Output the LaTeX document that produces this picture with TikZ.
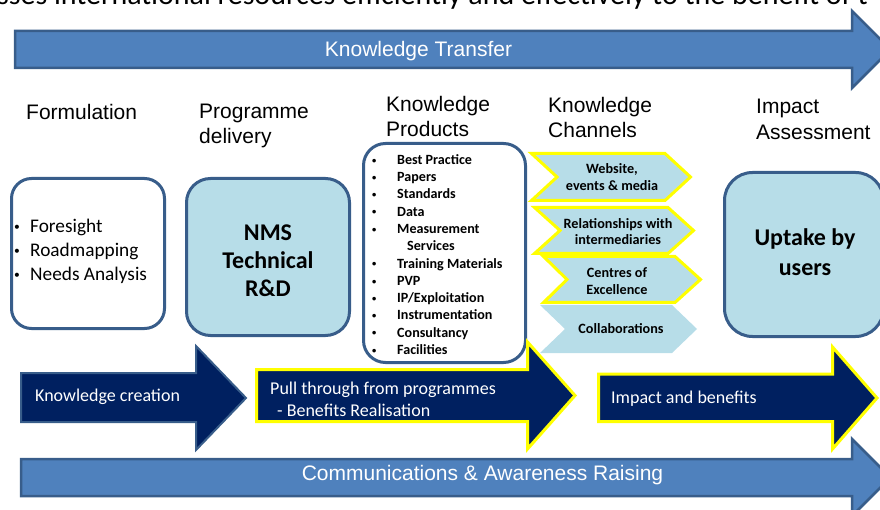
\documentclass[tikz,border=0pt]{standalone}
\usepackage{fontspec}
\setmainfont{Liberation Sans}
\newfontfamily\calibri{Carlito}
\newcommand\dotmark{\raisebox{0.18ex}{\scalebox{0.6}{\textbullet}}}
\begin{document}
\begin{tikzpicture}[x=1pt,y=-1pt,
  wide/.style={fill=midblue,draw=edgeblue,line width=2.5pt},
  navyarrow/.style={fill=navy,draw=yellow,line width=3pt},
  stagebox/.style={draw=edgeblue,line width=3pt,rounded corners=#1},
  chevron/.style={fill=paleblue,draw=yellow,line width=3pt},
  heading/.style={anchor=west,align=left,inner sep=0pt,font=\fontsize{21}{25.5}\selectfont},
  bandtext/.style={text=white,inner sep=0pt,font=\fontsize{21}{25}\selectfont},
  arrowtext/.style={anchor=west,align=left,text=white,inner sep=0pt,font=\calibri\fontsize{18}{22}\selectfont},
  chantext/.style={align=center,inner sep=0pt,font=\calibri\bfseries\fontsize{14.2}{16.8}\selectfont},
  bigtext/.style={align=center,inner sep=0pt,font=\calibri\bfseries\fontsize{24}{28}\selectfont}]
  \definecolor{midblue}{HTML}{4F81BD}
  \definecolor{edgeblue}{HTML}{385D8A}
  \definecolor{navy}{HTML}{002060}
  \definecolor{paleblue}{HTML}{B7DDE8}
  \definecolor{yellow}{HTML}{FFFF00}
  \useasboundingbox (0,0) rectangle (880,510);
  \clip (0,0) rectangle (880,510);
  % line cut off at the top
  \node [anchor=base west,inner sep=0pt,font=\calibri\fontsize{30}{36}\selectfont] (topline) at (-3,4.5)
    {sses international resources efficiently and effectively to the benefit of t};
  % knowledge transfer band
  \filldraw [wide] (15,31) -- (852,31) -- (852,11) -- (890.5,49.5) -- (852,88) -- (852,68) -- (15,68) -- cycle;
  \node [bandtext] (transfer) at (418.5,51.5) {Knowledge Transfer};
  % stage headings
  \node [heading] (formhead) at (26,112) {Formulation};
  \node [heading] (delhead) at (199,126) {Programme\\delivery};
  \node [heading] (prodhead) at (386,116.5) {Knowledge\\Products};
  \node [heading] (chanhead) at (548,117.5) {Knowledge\\Channels};
  \node [heading] (impacthead) at (756,119.5) {Impact\\Assessment};
  % formulation
  \node [stagebox=20pt,fill=white,minimum width=153pt,minimum height=150pt] (formbox) at (88,253.5) {};
  \node [anchor=west,align=left,inner sep=0pt,font=\calibri\fontsize{19.3}{24}\selectfont] (formlist) at (14,251.5)
    {\makebox[16pt][l]{\dotmark}Foresight\\
     \makebox[16pt][l]{\dotmark}Roadmapping\\
     \makebox[16pt][l]{\dotmark}Needs Analysis};
  % programme delivery
  \node [stagebox=24pt,fill=paleblue,minimum width=163pt,minimum height=157pt] (nms) at (268,257) {};
  \node [bigtext] (nmstext) at (268,261) {NMS\\Technical\\R\&D};
  % products
  \node [stagebox=22pt,fill=white,minimum width=162pt,minimum height=219pt] (prodbox) at (444.5,253) {};
  \node [anchor=west,align=left,inner sep=0pt,font=\calibri\bfseries\fontsize{14.1}{17.27}\selectfont] (prodlist) at (372,254.5)
    {\makebox[25pt][l]{\dotmark}Best Practice\\
     \makebox[25pt][l]{\dotmark}Papers\\
     \makebox[25pt][l]{\dotmark}Standards\\
     \makebox[25pt][l]{\dotmark}Data\\
     \makebox[25pt][l]{\dotmark}Measurement\\
     \hspace*{35pt}Services\\
     \makebox[25pt][l]{\dotmark}Training Materials\\
     \makebox[25pt][l]{\dotmark}PVP\\
     \makebox[25pt][l]{\dotmark}IP/Exploitation\\
     \makebox[25pt][l]{\dotmark}Instrumentation\\
     \makebox[25pt][l]{\dotmark}Consultancy\\
     \makebox[25pt][l]{\dotmark}Facilities};
  % channels
  \filldraw [chevron] (531.5,153.5) -- (665,153.5) -- (690.5,177) -- (665,200.5) -- (531.5,200.5) -- (557,177) -- cycle;
  \node [chantext] (web) at (612,177) {Website,\\events \& media};
  \filldraw [chevron] (534.5,207.5) -- (668,207.5) -- (693.5,230.5) -- (668,253.5) -- (534.5,253.5) -- (560,230.5) -- cycle;
  \node [chantext] (relations) at (618,231.5) {Relationships with\\intermediaries};
  \filldraw [chevron] (543.5,256.5) -- (675,256.5) -- (700.5,279.5) -- (675,302.5) -- (543.5,302.5) -- (567,279.5) -- cycle;
  \node [chantext] (centres) at (617,281.5) {Centres of\\Excellence};
  \fill [paleblue] (540,305) -- (672,305) -- (697,329) -- (672,353) -- (540,353) -- (565,329) -- cycle;
  \node [chantext] (collab) at (621,328.5) {Collaborations};
  % impact assessment
  \node [stagebox=28pt,fill=paleblue,minimum width=159pt,minimum height=164pt] (uptake) at (804,254.5) {};
  \node [bigtext,font=\calibri\bfseries\fontsize{24}{30}\selectfont] (uptaketext) at (805,252) {Uptake by\\users};
  % flow arrows
  \filldraw [navyarrow,draw=edgeblue,line width=2pt] (21,373) -- (196,373) -- (196,346) -- (246,398) -- (196,450) -- (196,422) -- (21,422) -- cycle;
  \node [arrowtext] (creation) at (35,397) {Knowledge creation};
  \filldraw [navyarrow] (256.5,369.5) -- (527.5,369.5) -- (527.5,342) -- (575,395.5) -- (527.5,449) -- (527.5,421.5) -- (256.5,421.5) -- cycle;
  \node [arrowtext] (pull) at (270,399) {Pull through from programmes\\\hspace*{7pt}- Benefits Realisation};
  \filldraw [navyarrow] (598.5,374) -- (832.5,374) -- (832.5,347) -- (877,398) -- (832.5,449) -- (832.5,421.5) -- (598.5,421.5) -- cycle;
  \node [arrowtext] (benefits) at (611,399) {Impact and benefits};
  % communications band
  \filldraw [wide] (21,459) -- (852,459) -- (852,439) -- (890.5,477.5) -- (852,516) -- (852,496) -- (21,496) -- cycle;
  \node [bandtext] (comms) at (482.5,475) {Communications \& Awareness Raising};
\end{tikzpicture}
\end{document}
